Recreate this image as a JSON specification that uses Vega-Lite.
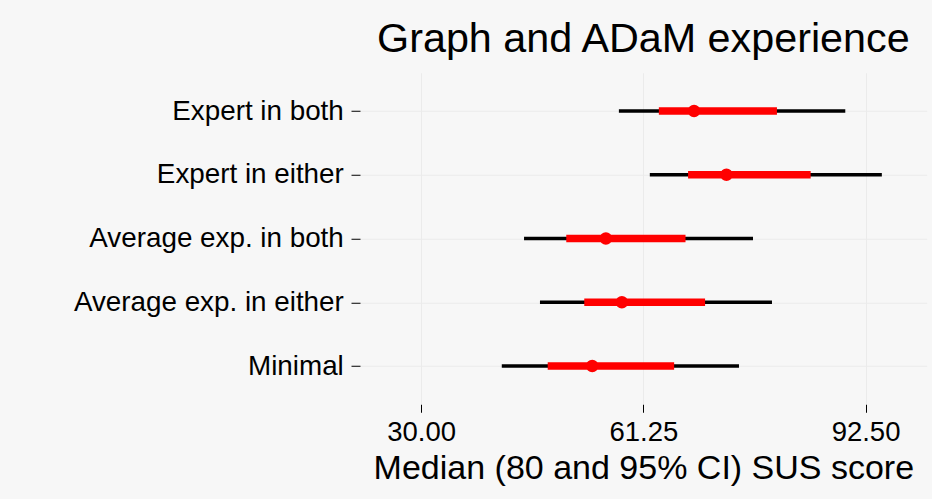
{
  "$schema": "https://vega.github.io/schema/vega-lite/v6.json",
  "width": 566.7,
  "height": 331.5,
  "autosize": {"type": "none"},
  "padding": {"left": 360, "top": 72.75, "right": 5.3, "bottom": 94.75},
  "background": "#f7f7f7",
  "config": {
    "view": {"stroke": null},
    "font": "Liberation Sans"
  },
  "title": {
    "text": "Graph and ADaM experience",
    "fontSize": 41.3,
    "font": "Liberation Sans",
    "fontWeight": "normal",
    "color": "black",
    "anchor": "middle",
    "baseline": "alphabetic",
    "offset": -21
  },
  "data": {
    "values": [
      {"group": "Expert in both", "lo95": 57.81, "lo80": 63.43, "median": 68.38, "hi80": 80.04, "hi95": 89.65},
      {"group": "Expert in either", "lo95": 62.16, "lo80": 67.54, "median": 72.94, "hi80": 84.78, "hi95": 94.79},
      {"group": "Average exp. in both", "lo95": 44.47, "lo80": 50.41, "median": 55.98, "hi80": 67.18, "hi95": 76.67},
      {"group": "Average exp. in either", "lo95": 46.71, "lo80": 52.94, "median": 58.23, "hi80": 69.93, "hi95": 79.34},
      {"group": "Minimal", "lo95": 41.34, "lo80": 47.8, "median": 54.06, "hi80": 65.58, "hi95": 74.7}
    ]
  },
  "encoding": {
    "y": {
      "field": "group",
      "type": "nominal",
      "sort": ["Expert in both", "Expert in either", "Average exp. in both", "Average exp. in either", "Minimal"],
      "scale": {"type": "point", "padding": 0.6},
      "axis": {
        "title": null,
        "labelFontSize": 27.8,
        "labelFont": "Liberation Sans",
        "labelColor": "black",
        "labelLimit": 0,
        "tickSize": 9,
        "tickColor": "black",
        "tickWidth": 1,
        "labelPadding": 7.7,
        "domain": false,
        "grid": true,
        "gridColor": "#ebebeb",
        "gridWidth": 1
      }
    }
  },
  "layer": [
    {
      "mark": {"type": "rule", "color": "black", "strokeWidth": 3.3},
      "encoding": {
        "x": {
          "field": "lo95",
          "type": "quantitative",
          "scale": {"domain": [21.4, 101.1], "nice": false, "zero": false},
          "axis": {
            "values": [30, 61.25, 92.5],
            "format": ".2f",
            "labelFontSize": 27.5,
            "labelFont": "Liberation Sans",
            "labelColor": "black",
            "labelBaseline": "alphabetic",
            "labelPadding": 27.75,
            "tickSize": 8,
            "tickColor": "black",
            "tickWidth": 1,
            "domain": false,
            "grid": true,
            "gridColor": "#ebebeb",
            "gridWidth": 1,
            "title": "Median (80 and 95% CI) SUS score",
            "titleFont": "Liberation Sans",
            "titleFontSize": 34,
            "titleFontWeight": "normal",
            "titleColor": "black",
            "titleBaseline": "alphabetic",
            "titleY": 74
          }
        },
        "x2": {"field": "hi95"}
      }
    },
    {
      "mark": {"type": "rule", "color": "#ff0000", "strokeWidth": 7.5},
      "encoding": {
        "x": {"field": "lo80", "type": "quantitative"},
        "x2": {"field": "hi80"}
      }
    },
    {
      "mark": {"type": "circle", "color": "#ff0000", "size": 154, "opacity": 1},
      "encoding": {
        "x": {"field": "median", "type": "quantitative"}
      }
    }
  ]
}
